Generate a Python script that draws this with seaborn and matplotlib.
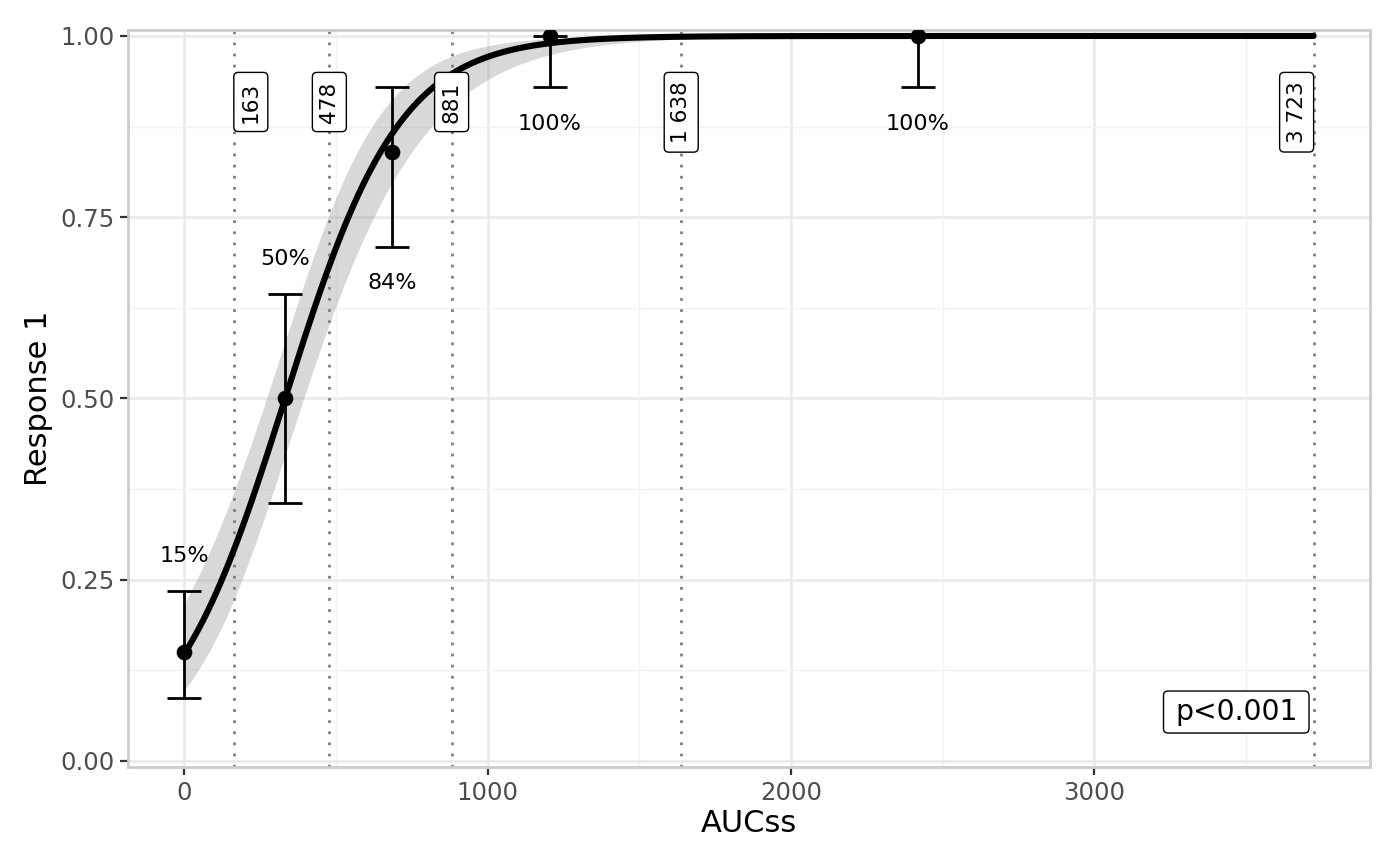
import matplotlib
matplotlib.use("Agg")
import matplotlib.pyplot as plt
from matplotlib.patches import FancyBboxPatch
from matplotlib.transforms import IdentityTransform
import numpy as np
import pandas as pd
import seaborn as sns

# observed response by exposure group
auc_group = [0, 332, 684, 1204, 2418]
resp_obs = [0.15, 0.50, 0.84, 1.00, 1.00]
resp_lo = [0.087, 0.356, 0.709, 0.929, 0.929]
resp_hi = [0.235, 0.644, 0.929, 1.00, 1.00]

# exposure cut points shown as vertical lines
cut_points = [163, 478, 881, 1638, 3723]

# logistic fit (logit scale)
fit_b0 = -1.75
fit_b1 = 0.00527
ci_w0 = 0.10        # squared half-width at the centre
ci_k = 1.1e-6       # growth of squared half-width
ci_c = 330
p_text = "p<0.001"

sns.set_theme(style="whitegrid")
plt.rcParams["font.family"] = ["DejaVu Sans"]

fig = plt.figure(figsize=(7, 4.33), dpi=200)
ax = fig.add_axes([0.0914, 0.1143, 0.8872, 0.8511])

xs = np.linspace(0, max(cut_points), 500)
eta = fit_b0 + fit_b1 * xs
hw = np.sqrt(ci_w0 + ci_k * (xs - ci_c) ** 2)
curve = pd.DataFrame({
    "AUCss": xs,
    "fit": 1 / (1 + np.exp(-eta)),
    "lo": 1 / (1 + np.exp(-(eta - hw))),
    "hi": 1 / (1 + np.exp(-(eta + hw))),
})
obs = pd.DataFrame({"AUCss": auc_group, "resp": resp_obs, "lo": resp_lo, "hi": resp_hi})

# cut point lines
for c in cut_points:
    ax.axvline(c, color="#7F7F7F", lw=1.0, linestyle=(0, (1, 3)), zorder=2)

ax.fill_between(curve["AUCss"], curve["lo"], curve["hi"], color="#999999", alpha=0.38,
                lw=0, zorder=1)
sns.lineplot(data=curve, x="AUCss", y="fit", color="black", lw=2.2, ax=ax, zorder=4)

ax.errorbar(obs["AUCss"], obs["resp"],
            yerr=[obs["resp"] - obs["lo"], obs["hi"] - obs["resp"]],
            fmt="none", ecolor="black", elinewidth=1.0, capsize=6.2, capthick=1.0, zorder=5)
sns.scatterplot(data=obs, x="AUCss", y="resp", color="black", s=32, edgecolor="black",
                linewidth=0, ax=ax, zorder=6)

# percentage labels above or below the error bar
for x, y, lo, hi in zip(auc_group, resp_obs, resp_lo, resp_hi):
    ly = hi + 0.048 if y < 0.75 else lo - 0.05
    ax.text(x, ly, f"{round(y * 100)}%", ha="center", va="center", fontsize=8, color="black",
            zorder=7)

# labels that get a rounded box: (text, horizontal pad px, vertical pad px)
boxed = []
lab_px = 7.0
for i, c in enumerate(cut_points):
    lab = f"{c:,}".replace(",", " ")
    if i == 0:
        ha, dx = "left", lab_px
    elif i == len(cut_points) - 1:
        ha, dx = "right", -lab_px
    else:
        ha, dx = "center", 0
    t = ax.annotate(lab, xy=(c, 0.95), xytext=(dx * 72 / 200, -3.3),
                    textcoords="offset points", rotation=90, ha=ha, va="top",
                    fontsize=7.8, color="black", zorder=8)
    boxed.append((t, lab_px, 9.0))

t = ax.annotate(p_text, xy=(0.9416, 0.0746), xycoords="axes fraction", ha="right",
                va="center", fontsize=10.2, color="black", zorder=8)
boxed.append((t, 11.5, 7.0))

ax.set_xlim(-186, 3909)
ax.set_ylim(-0.0083, 1.0083)
ax.set_xticks([0, 1000, 2000, 3000])
ax.set_yticks([0, 0.25, 0.5, 0.75, 1.0])
ax.set_yticklabels(["0.00", "0.25", "0.50", "0.75", "1.00"])
ax.set_xticks([500, 1500, 2500, 3500], minor=True)
ax.set_yticks([0.125, 0.375, 0.625, 0.875], minor=True)
ax.grid(which="major", color="#EBEBEB", lw=1.0)
ax.grid(which="minor", color="#F2F2F2", lw=0.5)
ax.set_axisbelow(True)
ax.set_facecolor("white")
for s in ax.spines.values():
    s.set_color("#CCCCCC")
    s.set_linewidth(1.0)
ax.tick_params(which="major", length=2.75, width=0.8, color="#333333", labelsize=8.8,
               labelcolor="#4D4D4D", pad=2.2, bottom=True, left=True)
ax.tick_params(which="minor", length=0)
ax.set_xlabel("AUCss", fontsize=11, color="black", labelpad=1.5)
ax.set_ylabel("Response 1", fontsize=11, color="black", labelpad=2.5)

# draw boxes around labels in pixel space
fig.canvas.draw()
renderer = fig.canvas.get_renderer()
for t, px, py in boxed:
    bb = t.get_window_extent(renderer)
    box = FancyBboxPatch((bb.x0 - px, bb.y0 - py), bb.width + 2 * px, bb.height + 2 * py,
                         boxstyle="round,pad=0,rounding_size=4.5", fc="white", ec="black",
                         lw=0.5, transform=IdentityTransform(), zorder=7.5)
    ax.add_artist(box)

fig.savefig("out.png", dpi=200, facecolor="white")
